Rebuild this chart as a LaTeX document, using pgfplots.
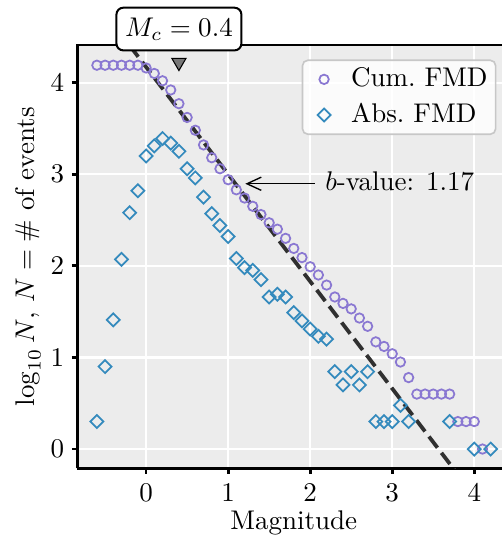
\documentclass[border=0pt]{standalone}
\usepackage{pgfplots}
\pgfplotsset{compat=1.18}
\usetikzlibrary{arrows.meta}
\definecolor{cumc}{HTML}{8A78D2}
\definecolor{absc}{HTML}{348ABD}
\definecolor{bgc}{HTML}{ECECEC}
\definecolor{trig}{HTML}{777777}
\definecolor{dline}{HTML}{303030}
\pgfplotstableread{
x y
-0.6 4.19
-0.5 4.19
-0.4 4.19
-0.3 4.19
-0.2 4.19
-0.1 4.19
0.0 4.16
0.1 4.10
0.2 4.02
0.3 3.92
0.4 3.77
0.5 3.62
0.6 3.48
0.7 3.32
0.8 3.18
0.9 3.06
1.0 2.94
1.1 2.83
1.2 2.74
1.3 2.65
1.4 2.56
1.5 2.47
1.6 2.40
1.7 2.30
1.8 2.19
1.9 2.09
2.0 1.99
2.1 1.90
2.2 1.79
2.3 1.66
2.4 1.59
2.5 1.53
2.6 1.43
2.7 1.34
2.8 1.17
2.9 1.12
3.0 1.04
3.1 0.95
3.2 0.78
3.3 0.60
3.4 0.60
3.5 0.60
3.6 0.60
3.7 0.60
3.8 0.30
3.9 0.30
4.0 0.30
4.1 0.00
}\cumtable
\pgfplotstableread{
x y
-0.6 0.30
-0.5 0.90
-0.4 1.41
-0.3 2.07
-0.2 2.58
-0.1 2.82
0.0 3.20
0.1 3.31
0.2 3.39
0.3 3.34
0.4 3.25
0.5 3.06
0.6 2.96
0.7 2.75
0.8 2.57
0.9 2.44
1.0 2.32
1.1 2.08
1.2 1.98
1.3 1.95
1.4 1.85
1.5 1.66
1.6 1.69
1.7 1.66
1.8 1.49
1.9 1.40
2.0 1.31
2.1 1.23
2.2 1.20
2.3 0.845
2.4 0.70
2.5 0.845
2.6 0.70
2.7 0.845
2.8 0.30
2.9 0.30
3.0 0.30
3.1 0.477
3.2 0.30
3.7 0.30
4.0 0.00
4.2 0.00
}\abstable
\begin{document}
\begin{tikzpicture}
\begin{axis}[
  scale only axis, width=157.3pt, height=156.8pt,
  xmin=-0.84, xmax=4.335, ymin=-0.21, ymax=4.41,
  axis x line*=bottom, axis y line*=left,
  x axis line style={-, line width=1pt}, y axis line style={-, line width=1pt},
  axis background/.style={fill=bgc},
  grid=major, grid style={white, line width=0.8pt},
  xtick={0,1,2,3,4}, ytick={0,1,2,3,4},
  tick align=outside, major tick length=2pt,
  major tick style={black, line width=1pt},
  xticklabel style={anchor=north, inner sep=0pt, yshift=-3.5pt},
  yticklabel style={anchor=east, inner sep=0pt, xshift=-2.6pt},
  xlabel={Magnitude}, ylabel={$\log_{10}N$, $N=\#$ of events},
  every axis x label/.style={at={([yshift=-22.8pt]axis description cs:0.5102,0)}, anchor=base},
  every axis y label/.style={at={([xshift=-18.3pt]axis description cs:0,0.5)}, anchor=center, rotate=90},
  legend style={at={(0.9875,0.966)}, anchor=north east, draw=black!22, line width=0.6pt,
    fill=white, fill opacity=0.8, text opacity=1, rounded corners=2pt,
    inner xsep=1pt, inner ysep=0.8pt, row sep=0.6pt},
  legend cell align=left,
  legend image code/.code={\path[draw=none] (0pt,0pt) (15pt,0pt); \draw plot[only marks] coordinates {(7pt,0pt)};},
]
\addplot[only marks, mark=o, mark size=1.75pt, mark options={draw=cumc, line width=0.65pt}] table[x=x,y=y] {\cumtable};
\addlegendentry{Cum.\ FMD}
\addplot[only marks, mark=square, mark size=1.7pt, mark options={draw=absc, rotate=45, line width=0.65pt}] table[x=x,y=y] {\abstable};
\addlegendentry{Abs.\ FMD}
\addplot[forget plot, dline, line width=1.4pt, dash pattern=on 5.2pt off 2.4pt] coordinates {(-0.2,4.404) (3.8,-0.276)};
\addplot[forget plot, only marks, mark=triangle*, mark size=3pt, mark options={rotate=180, fill=trig, draw=none}] coordinates {(0.4,4.22)};
\draw[-{Straight Barb[length=5.3pt,width=4.9pt]}, line width=0.5pt] (axis cs:2.055,2.896) -- (axis cs:1.21,2.896);
\node[anchor=west, inner sep=0pt] at (axis cs:2.177,2.925) {$b$-value: 1.17};
\coordinate (mc) at (axis cs:0.4,4.585);
\end{axis}
\draw[line width=1pt, line cap=rect] (current axis.north west) -- (current axis.north east);
\node[draw, fill=white, rounded corners=2.5pt, line width=0.75pt, inner xsep=3.2pt, minimum height=15.8pt] at (mc) {$M_c = 0.4$};
\pgfresetboundingbox
\path[use as bounding box] ([xshift=-28.6pt,yshift=-26.2pt]current axis.south west) rectangle ([yshift=16.7pt]current axis.north east);
\end{tikzpicture}
\end{document}
